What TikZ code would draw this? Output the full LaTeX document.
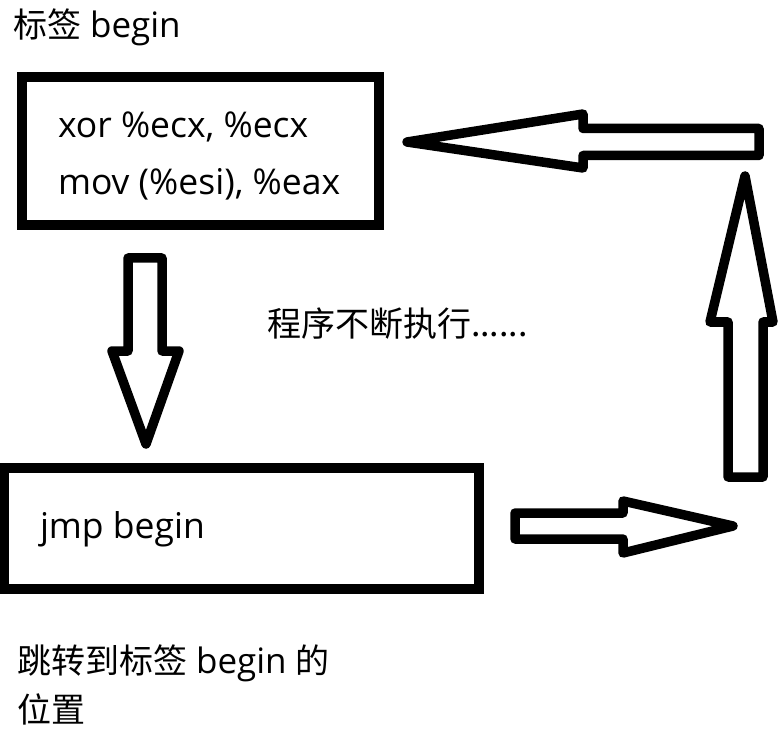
\documentclass[tikz,border=0pt]{standalone}
\usepackage{fontspec}
\setmainfont{Open Sans}
\newfontfamily\cjk{Noto Sans CJK SC}
\newcommand{\latinpart}{\fontspec{Open Sans}\fontsize{35}{40}\selectfont}
\newcommand{\cjkpart}{\cjk\fontsize{34}{40}\selectfont}
\begin{document}
\begin{tikzpicture}[x=1pt,y=-1pt,
  box/.style={draw=black,line width=10pt,inner sep=0pt,fill=white},
  blockarrow/.style={draw=black,line width=9.5pt,line join=round,fill=white},
  txt/.style={anchor=base west,inner sep=0pt,outer sep=0pt,font=\fontsize{35.5}{40}\selectfont},
  ctxt/.style={anchor=base west,inner sep=0pt,outer sep=0pt,font=\cjkpart}]
\useasboundingbox (0,0) rectangle (779,735);
% boxes
\node[box,minimum width=357pt,minimum height=148pt] (topbox) at (200.5,151) {};
\node[box,minimum width=475pt,minimum height=121pt] (botbox) at (241.5,528.5) {};
% texts
\node[ctxt] (lbl) at (13,38) {标签{\latinpart\ begin}};
\node[txt] (l1) at (58,138) {xor \%ecx, \%ecx};
\node[txt] (l2) at (58,195) {mov (\%esi), \%eax};
\node[txt] (l3) at (40,538) {jmp begin};
\node[ctxt] (mid) at (267,337) {程序不断执行......};
\node[ctxt] (cap1) at (17,673) {跳转到标签{\latinpart\ begin }的};
\node[ctxt] (cap2) at (17,722) {位置};
% block arrows
\draw[blockarrow] (128,258)--(162,258)--(162,351)--(179,351)--(146,444)--(112,351)--(128,351)--cycle;
\draw[blockarrow] (515,513)--(623,513)--(623,501)--(733,526)--(623,553)--(623,539)--(515,539)--cycle;
\draw[blockarrow] (728,477)--(763,477)--(763,322)--(773,322)--(745,176)--(710,322)--(728,322)--cycle;
\draw[blockarrow] (759,128.5)--(759,155.5)--(583,155.5)--(583,168)--(407,142)--(583,114)--(583,128.5)--cycle;
\end{tikzpicture}
\end{document}
